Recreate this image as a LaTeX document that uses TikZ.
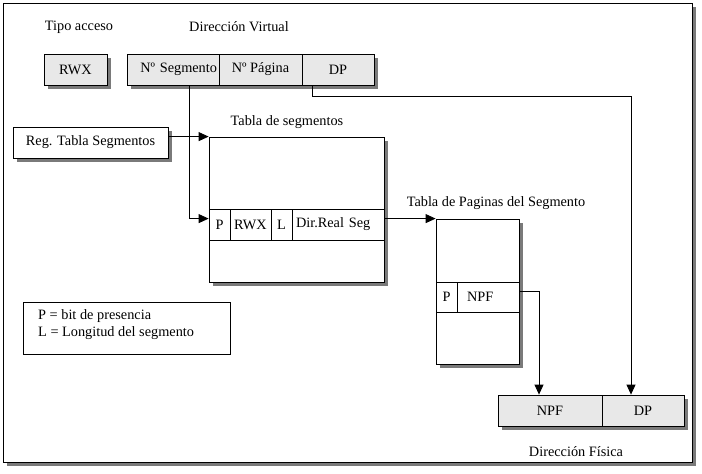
\documentclass[tikz,border=0pt]{standalone}
\usepackage{fontspec}
\setmainfont{Liberation Serif}
\usetikzlibrary{arrows.meta,shadows,calc}
\definecolor{boxgray}{HTML}{E8E8E8}
\definecolor{shadowgray}{HTML}{7A7A7A}
\begin{document}
\begin{tikzpicture}[x=1pt,y=-1pt,
  every node/.style={font=\fontsize{14.3}{17}\selectfont},
  shad/.style={drop shadow={shadow xshift=3.5pt,shadow yshift=-3.5pt,fill=shadowgray,opacity=1}},
  bigshad/.style={drop shadow={shadow xshift=4pt,shadow yshift=-4pt,fill=shadowgray,opacity=1}},
  cell/.style={draw,inner sep=0pt,line width=0.8pt},
  lbl/.style={inner sep=0pt},
  arr/.style={line width=0.8pt,-{Triangle[length=10pt,width=9pt]}}
]
\useasboundingbox (0,0) rectangle (702,474);
% frame
\node[cell,fill=white,bigshad,minimum width=689,minimum height=459] (frame) at (347.5,232.5) {};
% labels
\node[lbl] (tipo) at (79,27) {Tipo acceso};
\node[lbl] (dirv) at (239,27) {Dirección Virtual};
\node[lbl] (tseg) at (287,122) {Tabla de segmentos};
\node[lbl] (tpag) at (496,203) {Tabla de Paginas del Segmento};
\node[lbl] (dfis) at (576,452) {Dirección Física};
% RWX
\node[cell,fill=boxgray,shad,minimum width=63,minimum height=31] (rwx) at (75.5,69.5) {RWX};
% virtual address
\node[cell,fill=boxgray,shad,minimum width=247,minimum height=31] (va) at (250.5,69.5) {};
\node[cell,minimum width=92,minimum height=31,inner xsep=2pt,text width=88pt,align=right] (nseg) at (173,69.5) {Nº Segmento};
\node[cell,minimum width=83,minimum height=31] (npag) at (260.5,69.5) {Nº Página};
\node[cell,minimum width=72,minimum height=31] (dp) at (338,69.5) {DP};
% register
\node[cell,fill=white,shad,minimum width=155,minimum height=31] (reg) at (90.5,142.5) {Reg. Tabla Segmentos};
% segment table
\node[cell,fill=white,shad,minimum width=175,minimum height=145] (seg) at (296.5,209.5) {};
\node[cell,minimum width=21,minimum height=31] (sp) at (219.5,224.5) {P};
\node[cell,minimum width=41,minimum height=31] (srwx) at (250.5,224.5) {RWX};
\node[cell,minimum width=21,minimum height=31] (sl) at (281.5,224.5) {L};
\node[cell,minimum width=92,minimum height=31,inner xsep=4pt,text width=84pt,align=left] (sdir) at (338,224.5) {Dir.Real Seg};
% page table
\node[cell,fill=white,shad,minimum width=83,minimum height=145] (pt) at (477.5,291.5) {};
\node[cell,minimum width=21,minimum height=30] (pp) at (446.5,297) {P};
\node[cell,minimum width=62,minimum height=30,inner xsep=10pt,text width=42pt,align=left] (pnpf) at (488,297) {NPF};
% physical address
\node[cell,fill=boxgray,shad,minimum width=186,minimum height=31] (pa) at (591,410.5) {};
\node[cell,minimum width=104,minimum height=31] (fnpf) at (550,410.5) {NPF};
\node[cell,minimum width=82,minimum height=31] (fdp) at (643,410.5) {DP};
% legend
\node[cell,fill=white,minimum width=207,minimum height=52] (leg) at (126.5,328) {};
\node[lbl,anchor=west,align=left] (legtxt) at (38,325) {P = bit de presencia\\L = Longitud del segmento};
% connectors
\draw[arr] (reg.east |- seg.north west) -- (seg.north west);
\draw[arr] ([xshift=16pt]nseg.south) |- ([yshift=-10pt]sp.north west);
\draw[arr] ([yshift=-10pt]sdir.north east) -- (pt.north west);
\draw[arr] ([yshift=-10pt]pnpf.north east) -| ([xshift=-11pt]fnpf.north);
\draw[arr] ([xshift=-26pt]dp.south) |- ++(0,11) -| ([xshift=-12pt]fdp.north);
\end{tikzpicture}
\end{document}
